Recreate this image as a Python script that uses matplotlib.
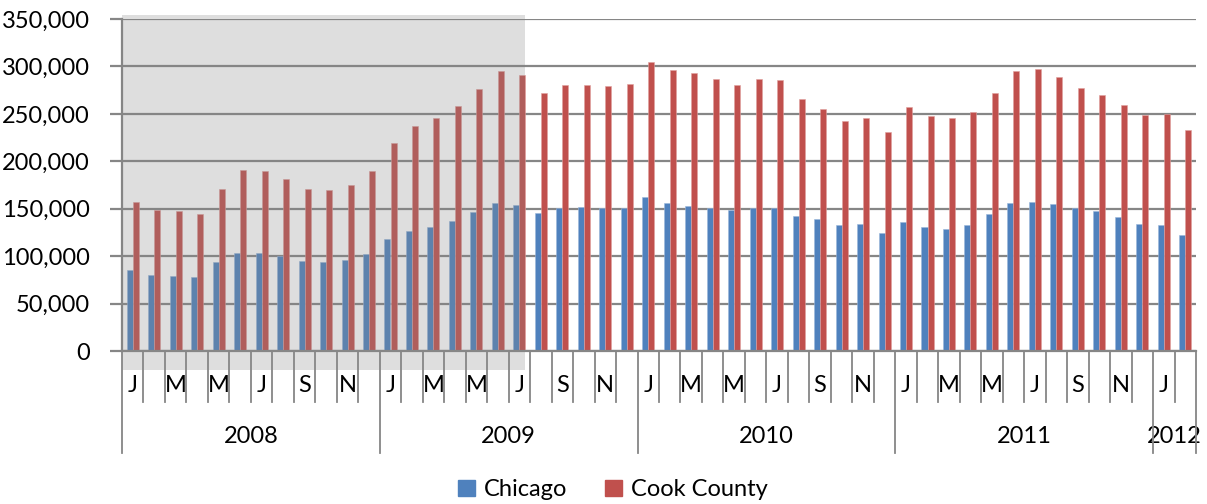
import matplotlib.pyplot as plt
import matplotlib.transforms as mtransforms
from matplotlib.patches import Patch, Rectangle
import numpy as np

plt.rcParams['font.family'] = ['Lato', 'DejaVu Sans']

# monthly values, Jan 2008 .. Feb 2012
chicago = [
    85000, 80300, 79200, 78200, 93300, 103500, 103200, 100000, 94400, 93700, 96100, 102500,
    117600, 126400, 130300, 136600, 146100, 155600, 154200, 145400, 151000, 151800, 150700, 150300,
    162000, 156300, 152800, 150700, 148900, 150700, 150700, 142600, 139400, 132700, 133800, 124300,
    136300, 130600, 128900, 133100, 144000, 155600, 157400, 154900, 150700, 147200, 141200, 133400,
    132700, 122500,
]
cook_county = [
    156700, 148900, 147200, 144000, 170400, 190500, 190100, 181700, 171100, 169400, 174600, 189400,
    219000, 237000, 246100, 258100, 275700, 295100, 291200, 271800, 279900, 280300, 278900, 281300,
    304900, 296100, 292600, 286300, 280300, 286600, 285600, 265500, 255300, 242200, 245400, 230600,
    257000, 247900, 246100, 251800, 271500, 295100, 296800, 288700, 277500, 269700, 259500, 248600,
    250300, 232700,
]
years = ['2008', '2009', '2010', '2011', '2012']
month_letters = ['J', 'F', 'M', 'A', 'M', 'J', 'J', 'A', 'S', 'O', 'N', 'D']
shaded_months = 19  # Jan 2008 .. Jul 2009

blue = '#4F81BD'
red = '#C0504D'
grid = '#868686'

n = len(chicago)
x = np.arange(n)
w = 0.28

fig = plt.figure(figsize=(12.07, 5.04), dpi=100)
ax = fig.add_axes([122 / 1207, 1 - 351 / 504, (1196 - 122) / 1207, 332 / 504])

ax.bar(x - w / 2, chicago, w, color=blue, edgecolor='#9bb7da', linewidth=0.4, zorder=3)
ax.bar(x + w / 2, cook_county, w, color=red, edgecolor='#e0a09e', linewidth=0.4, zorder=3)

ax.set_xlim(-0.5, n - 0.5)
ax.set_ylim(0, 350000)
ax.set_yticks(np.arange(0, 350001, 50000))
ax.set_yticklabels([f'{v:,}' for v in range(0, 350001, 50000)], fontsize=17)
ax.yaxis.grid(True, color=grid, linewidth=1.6, zorder=1)
ax.tick_params(axis='y', length=9, width=1.6, color=grid, pad=14)
ax.set_xticks([])
for side in ['top', 'right', 'bottom']:
    ax.spines[side].set_visible(False)
ax.spines['left'].set_color(grid)
ax.spines['left'].set_linewidth(1.6)

trans = mtransforms.blended_transform_factory(ax.transData, ax.transAxes)

# gray band over the earlier period
ax.add_patch(Rectangle((-0.5, -0.057), shaded_months - 1 + w + 0.5, 1.069,
                       transform=trans, facecolor='#858585', alpha=0.27,
                       edgecolor='none', clip_on=False, zorder=4))

# base line
ax.plot([-0.5, n - 0.5], [0, 0], transform=trans, color=grid, lw=1.6,
        clip_on=False, zorder=5)

# two-level category axis
for k in range(n + 1):
    bottom = -0.307 if k % 12 == 0 or k == n else -0.154
    ax.plot([k - 0.5, k - 0.5], [0, bottom], transform=trans, color=grid,
            lw=1.3, clip_on=False, zorder=5)
for i in range(0, n, 2):
    ax.text(i, -0.105, month_letters[i % 12], transform=trans, ha='center',
            va='center', fontsize=17)
for j, yr in enumerate(years):
    start = j * 12
    end = min(start + 12, n)
    ax.text((start + end - 1) / 2, -0.259, yr, transform=trans, ha='center',
            va='center', fontsize=17)

handles = [Patch(color=blue, label='Chicago'), Patch(color=red, label='Cook County')]
fig.legend(handles=handles, loc='center', bbox_to_anchor=(0.508, 0.028), ncol=2,
           frameon=False, fontsize=17, handlelength=0.7, handleheight=0.7,
           handletextpad=0.4, columnspacing=1.6)

fig.savefig('out.png', dpi=100)
